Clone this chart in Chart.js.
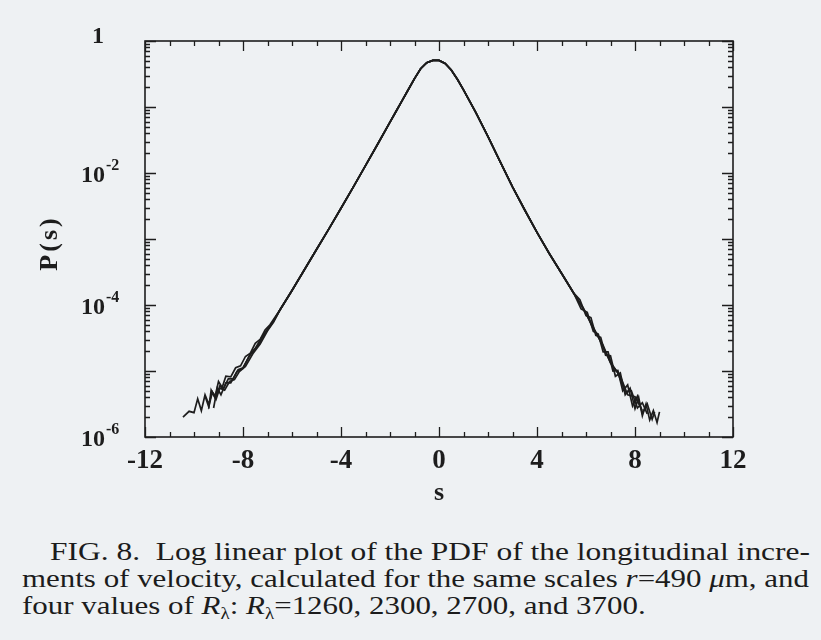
<!DOCTYPE html>
<html>
<head>
<meta charset="utf-8">
<title>FIG. 8 - PDF of longitudinal velocity increments</title>
<script src="https://cdn.jsdelivr.net/npm/chart.js@4.4.1/dist/chart.umd.min.js"></script>
<style>
	body { margin: 0; background: #eef1f3; width: 821px; height: 640px; overflow: hidden; position: relative; }
	#wrap { position: absolute; left: 0; top: 0; width: 821px; height: 520px; }
	.cap { position: absolute; font-family: "Liberation Serif", serif; font-size: 26px; line-height: 1; color: #1c1c1c; white-space: nowrap; transform-origin: 0 0; }
	.cap sub { font-size: 16px; vertical-align: -5px; line-height: 0; }
</style>
</head>
<body>
<div id="wrap"><canvas id="pdfChart" width="821" height="520"></canvas></div>
<div class="cap" id="cap1" style="left:50px; top:539px">FIG. 8.&nbsp; Log linear plot of the PDF of the longitudinal incre-</div>
<div class="cap" id="cap2" style="left:22px; top:566px">ments of velocity, calculated for the same scales <i>r</i>=490 <i>μ</i>m, and</div>
<div class="cap" id="cap3" style="left:22px; top:593px">four values of <i>R</i><sub>λ</sub>: <i>R</i><sub>λ</sub>=1260, 2300, 2700, and 3700.</div>
<script>
// axis ticks
const xMajorTicks = [-12, -8, -4, 0, 4, 8, 12]
const yLabelExps = [0, -2, -4, -6]

// shared central part (all four R_lambda collapse here)
const coreS = [-6.0, -5.5, -5.0, -4.5, -4.0, -3.5, -3.0, -2.5, -2.0, -1.75, -1.5, -1.25, -1.0, -0.75, -0.5, -0.25,
	0, 0.25, 0.5, 0.75, 1.0, 1.25, 1.5, 2.0, 2.5, 3.0, 3.5, 4.0, 4.5, 5.0]
const coreP = [1.66e-4, 3.39e-4, 6.92e-4, 1.41e-3, 2.92e-3, 6.10e-3, 1.29e-2, 2.75e-2, 5.89e-2, 8.61e-2, 0.126, 0.184, 0.269, 0.380, 0.468, 0.509,
	0.507, 0.457, 0.363, 0.263, 0.182, 0.123, 8.32e-2, 3.55e-2, 1.48e-2, 6.17e-3, 2.75e-3, 1.26e-3, 6.03e-4, 3.02e-4]

// tails, R_lambda = 1260
const leftS1260 = [-10.45, -10.2, -10.0, -9.85, -9.7, -9.55, -9.4, -9.25, -9.1, -8.95, -8.8, -8.6, -8.4, -8.2, -8.0, -7.75, -7.5, -7.25, -7.0, -6.75, -6.5]
const leftP1260 = [2.0e-6, 2.45e-6, 2.34e-6, 3.80e-6, 2.51e-6, 4.37e-6, 3.16e-6, 4.79e-6, 4.07e-6, 5.89e-6, 5.37e-6, 7.59e-6, 7.59e-6, 1.05e-5, 1.12e-5, 1.66e-5, 2.19e-5, 3.16e-5, 4.17e-5, 5.75e-5, 8.32e-5]
const rightS1260 = [5.5, 5.75, 6.0, 6.2, 6.4, 6.6, 6.8, 7.0, 7.2, 7.4, 7.6, 7.8, 8.0, 8.15, 8.3, 8.45, 8.6, 8.75, 8.9, 9.0]
const rightP1260 = [1.51e-4, 1.20e-4, 6.92e-5, 6.46e-5, 3.47e-5, 3.24e-5, 1.74e-5, 1.70e-5, 8.32e-6, 9.33e-6, 4.37e-6, 5.50e-6, 2.69e-6, 3.98e-6, 2.09e-6, 3.16e-6, 1.82e-6, 2.51e-6, 1.66e-6, 2.40e-6]

// tails, R_lambda = 2300
const leftS2300 = [-9.4, -9.3, -9.15, -9.0, -8.85, -8.7, -8.5, -8.3, -8.1, -7.9, -7.7, -7.5, -7.3, -7.1, -6.9, -6.7, -6.5]
const leftP2300 = [2.69e-6, 5.13e-6, 3.98e-6, 6.92e-6, 5.62e-6, 8.32e-6, 8.13e-6, 1.12e-5, 1.20e-5, 1.66e-5, 1.86e-5, 2.63e-5, 3.02e-5, 4.17e-5, 5.01e-5, 6.46e-5, 8.32e-5]
const rightS2300 = [5.5, 5.8, 6.05, 6.3, 6.5, 6.7, 6.9, 7.1, 7.3, 7.5, 7.7, 7.9, 8.1, 8.3, 8.5, 8.7, 8.8]
const rightP2300 = [1.51e-4, 8.71e-5, 7.76e-5, 3.98e-5, 3.63e-5, 1.95e-5, 1.95e-5, 1.0e-5, 1.02e-5, 5.01e-6, 6.17e-6, 2.95e-6, 4.17e-6, 2.29e-6, 3.16e-6, 1.86e-6, 2.40e-6]

// tails, R_lambda = 2700
const leftS2700 = [-9.55, -9.4, -9.25, -9.1, -8.95, -8.75, -8.55, -8.35, -8.15, -7.9, -7.6, -7.3, -7.0, -6.75, -6.5]
const leftP2700 = [4.17e-6, 2.88e-6, 4.79e-6, 3.72e-6, 5.50e-6, 5.13e-6, 6.92e-6, 7.41e-6, 9.77e-6, 1.17e-5, 1.82e-5, 2.57e-5, 4.07e-5, 5.50e-5, 8.32e-5]
const rightS2700 = [5.5, 5.9, 6.3, 6.7, 7.0, 7.3, 7.6, 7.85, 8.1, 8.3, 8.5]
const rightP2700 = [1.51e-4, 8.91e-5, 4.37e-5, 2.45e-5, 1.32e-5, 9.33e-6, 4.79e-6, 5.01e-6, 2.75e-6, 3.31e-6, 2.24e-6]

// tails, R_lambda = 3700
const leftS3700 = [-9.2, -9.05, -8.9, -8.7, -8.5, -8.25, -8.0, -7.7, -7.4, -7.1, -6.8, -6.5]
const leftP3700 = [2.75e-6, 5.50e-6, 4.37e-6, 6.61e-6, 6.61e-6, 9.77e-6, 1.10e-5, 1.82e-5, 2.40e-5, 3.80e-5, 5.37e-5, 8.32e-5]
const rightS3700 = [5.5, 6.0, 6.5, 7.0, 7.4, 7.7, 8.0, 8.3]
const rightP3700 = [1.51e-4, 7.41e-5, 3.31e-5, 1.35e-5, 8.32e-6, 4.37e-6, 4.07e-6, 2.51e-6]

const ink = "#1d1d1d"
const serif = '"Liberation Serif", "Times New Roman", serif'

function toPoints(sList, pList) {
	return sList.map((s, i) => ({ x: s, y: pList[i] }))
}

function makeSeries(label, lS, lP, rS, rP) {
	return {
		label: label,
		data: toPoints(lS, lP).concat(toPoints(coreS, coreP), toPoints(rS, rP)),
		borderColor: ink,
		borderWidth: 1.7,
		pointRadius: 0,
		tension: 0,
		fill: false,
	}
}

const frameTicks = {
	id: 'frameTicks',
	afterDatasetsDraw(chart) {
		const { ctx, chartArea: a } = chart
		const x = chart.scales.x
		const y = chart.scales.y
		ctx.save()
		ctx.strokeStyle = ink
		ctx.fillStyle = ink
		ctx.lineWidth = 1.6
		ctx.strokeRect(a.left, a.top, a.right - a.left, a.bottom - a.top)

		ctx.lineWidth = 1.3
		ctx.beginPath()
		for (let v = x.min; v <= x.max; v += 1) {
			const px = Math.round(x.getPixelForValue(v)) + 0.5
			const len = xMajorTicks.includes(v) ? 10 : 5
			ctx.moveTo(px, a.bottom); ctx.lineTo(px, a.bottom - len)
			ctx.moveTo(px, a.top); ctx.lineTo(px, a.top + len)
		}
		for (let e = -6; e <= 0; e++) {
			for (let m = 1; m <= 9; m++) {
				if (e === 0 && m > 1) break
				const py = Math.round(y.getPixelForValue(m * Math.pow(10, e))) + 0.5
				const len = m === 1 ? 11 : 5
				ctx.moveTo(a.left, py); ctx.lineTo(a.left + len, py)
				ctx.moveTo(a.right, py); ctx.lineTo(a.right - len, py)
			}
		}
		ctx.stroke()

		// x tick labels
		ctx.font = 'bold 27px ' + serif
		ctx.textAlign = 'center'
		ctx.textBaseline = 'middle'
		xMajorTicks.forEach(v => {
			ctx.fillText(String(v), x.getPixelForValue(v), a.bottom + 24)
		})

		// y tick labels: 1, 10^-2, ...
		yLabelExps.forEach(e => {
			const py = y.getPixelForValue(Math.pow(10, e))
			if (e === 0) {
				ctx.font = 'bold 24px ' + serif
				ctx.textAlign = 'center'
				ctx.fillText('1', 98, py - 4)
				return
			}
			ctx.font = 'bold 24px ' + serif
			ctx.textAlign = 'right'
			ctx.fillText('10', 105, py + 3)
			ctx.font = 'bold 16px ' + serif
			ctx.textAlign = 'left'
			ctx.fillText('-' + Math.abs(e), 106, py - 7)
		})

		// axis titles
		ctx.font = 'bold 26px ' + serif
		ctx.textAlign = 'center'
		ctx.fillText('s', (a.left + a.right) / 2, a.bottom + 56)

		ctx.translate(50, 243)
		ctx.rotate(-Math.PI / 2)
		ctx.letterSpacing = '3px'
		ctx.fillText('P(s)', 0, 0)
		ctx.restore()
	}
}

new Chart(document.getElementById("pdfChart"), {
	type: 'line',
	data: {
		datasets: [
			makeSeries('Rλ = 1260', leftS1260, leftP1260, rightS1260, rightP1260),
			makeSeries('Rλ = 2300', leftS2300, leftP2300, rightS2300, rightP2300),
			makeSeries('Rλ = 2700', leftS2700, leftP2700, rightS2700, rightP2700),
			makeSeries('Rλ = 3700', leftS3700, leftP3700, rightS3700, rightP3700),
		],
	},
	options: {
		responsive: false,
		animation: false,
		layout: { padding: { left: 145, right: 88, top: 41, bottom: 83 } },
		plugins: {
			legend: { display: false },
			tooltip: { enabled: false },
		},
		scales: {
			x: { type: 'linear', min: -12, max: 12, display: false },
			y: { type: 'logarithmic', min: 1e-6, max: 1, display: false },
		},
	},
	plugins: [frameTicks],
})

// stretch caption lines to the printed column width
function fitLine(id, width) {
	const el = document.getElementById(id)
	const k = width / el.getBoundingClientRect().width
	el.style.transform = 'scaleX(' + k + ')'
	return k
}
fitLine('cap1', 760)
const k2 = fitLine('cap2', 787)
document.getElementById('cap3').style.transform = 'scaleX(' + k2 + ')'
</script>
</body>
</html>
